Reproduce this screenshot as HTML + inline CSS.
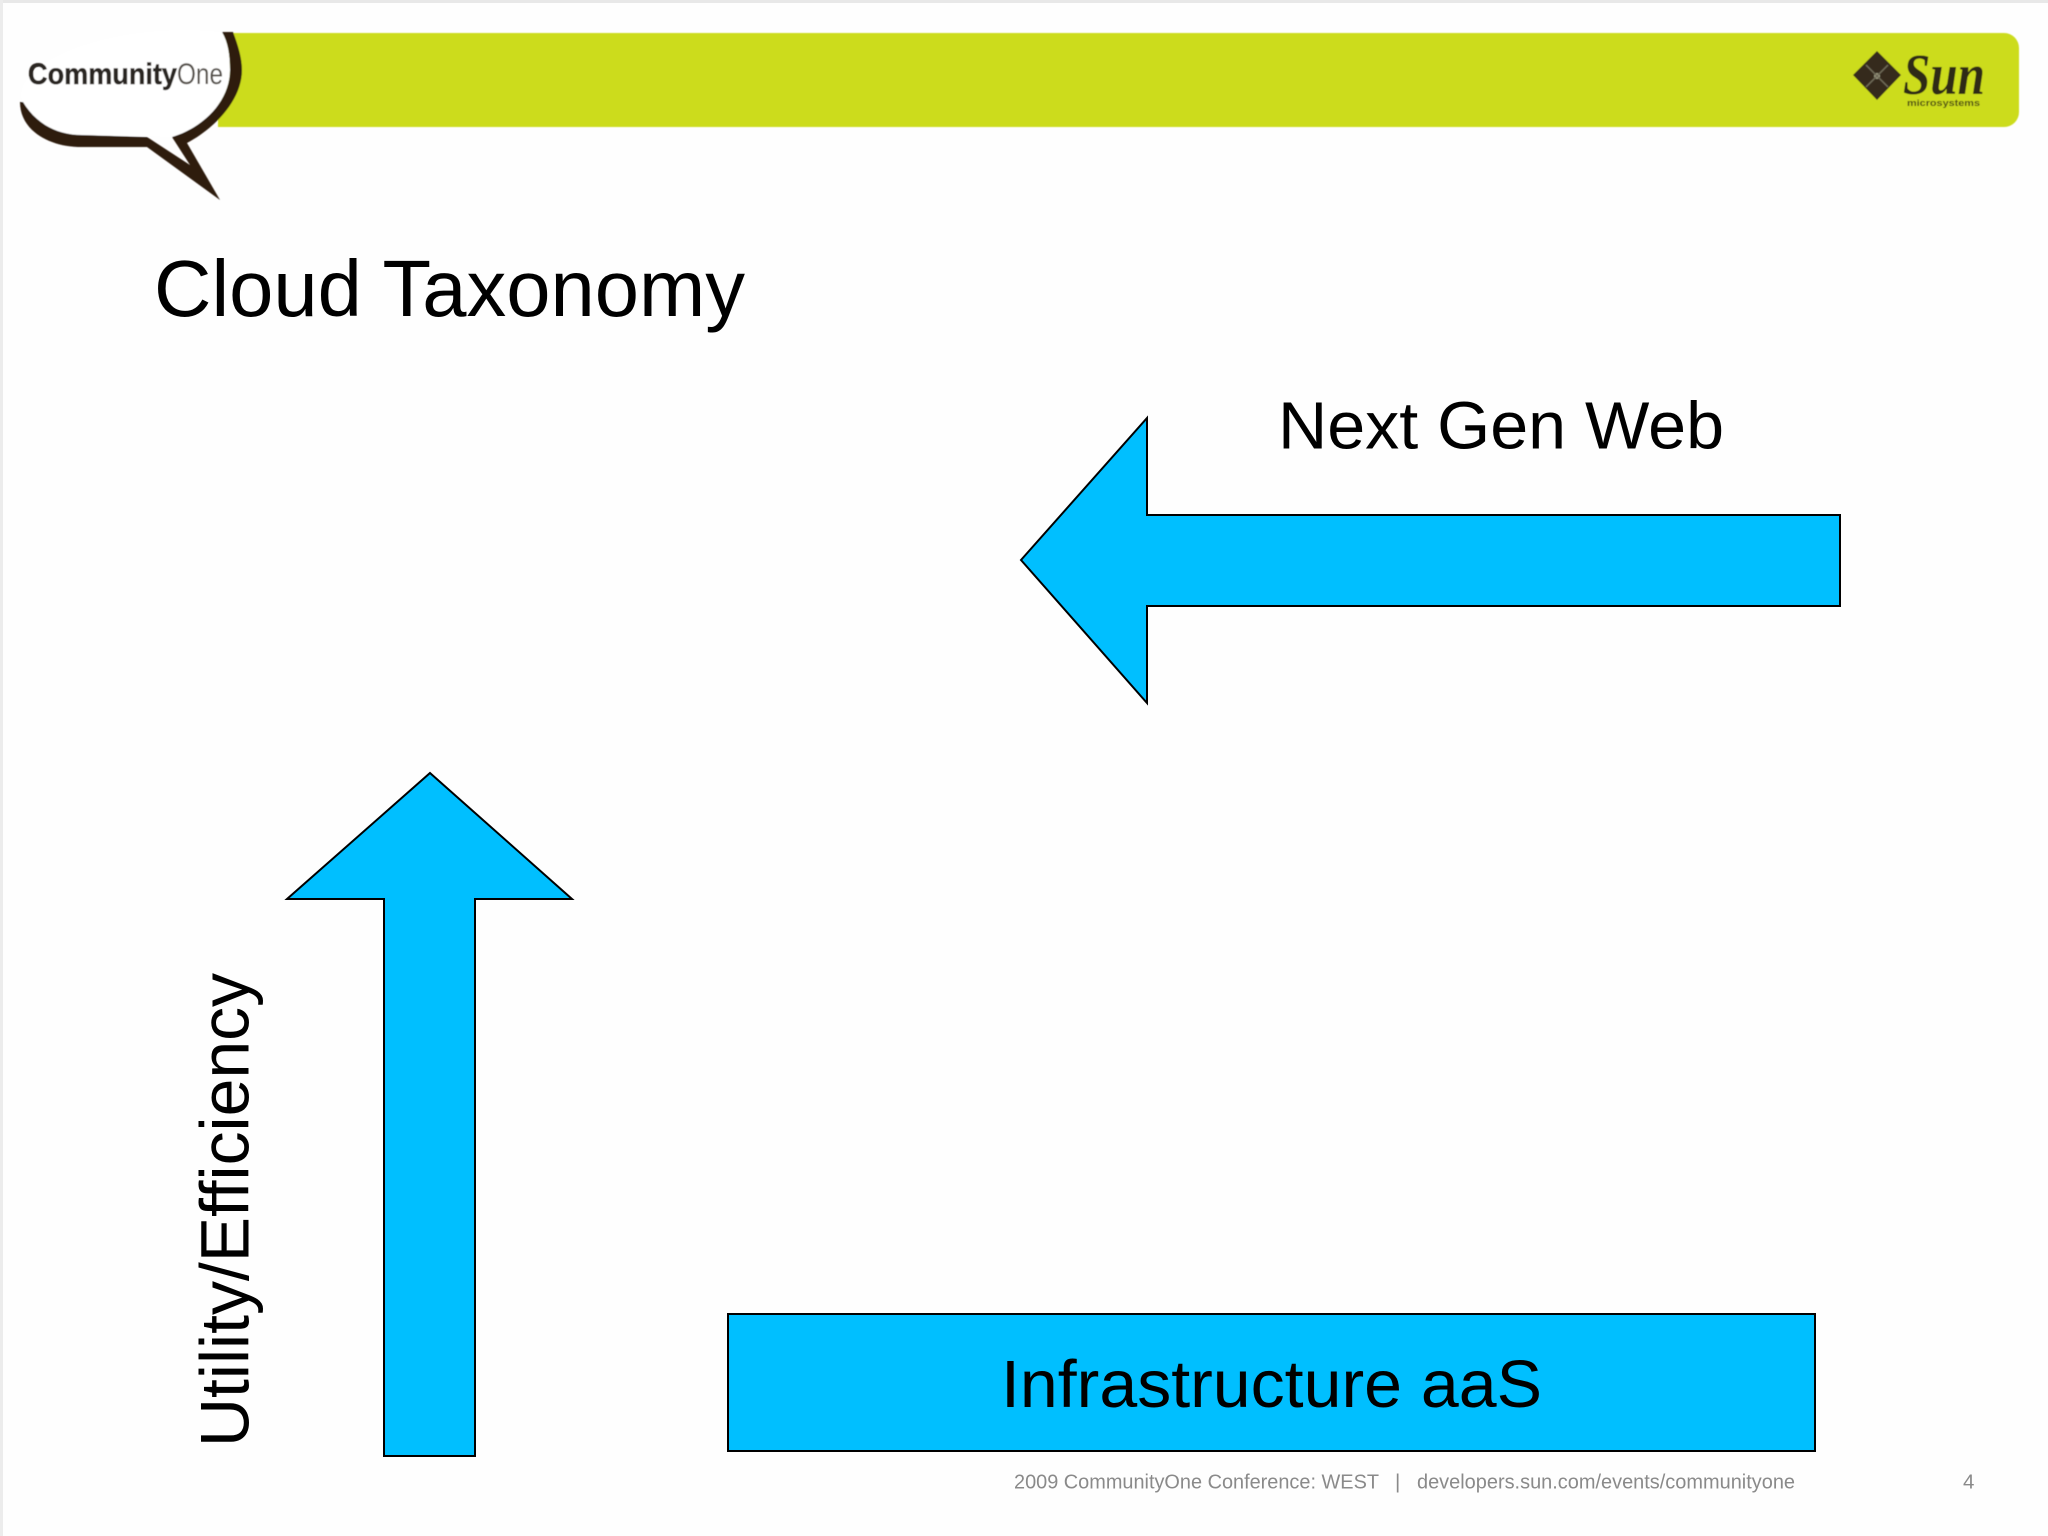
<!DOCTYPE html>
<html><head><meta charset="utf-8"><style>
html,body{margin:0;padding:0;background:#fefefe;width:2048px;height:1536px;overflow:hidden}
svg{display:block}
text{font-family:"Liberation Sans",sans-serif}
</style></head><body>
<svg width="2048" height="1536" viewBox="0 0 2048 1536" xmlns="http://www.w3.org/2000/svg">
<defs><filter id="s" x="-5%" y="-5%" width="110%" height="110%"><feGaussianBlur stdDeviation="0.6"/></filter></defs>
<rect width="2048" height="1536" fill="#fefefe"/>
<rect width="2048" height="3" fill="#e8e8e8"/>
<rect width="3" height="1536" fill="#ececec"/>
<!-- header -->
<g filter="url(#s)">
<path d="M218 33H2004A15 15 0 0 1 2019 48V112A15 15 0 0 1 2004 127H218Z" fill="#ccdc1c"/>
<path d="M222 32C120 20 10 60 22 102C35 120 50 135 80 135L172 137C205 127 230 100 230 70C230 55 228 42 222 32Z" fill="#fff"/>
<path d="M222 32L233 32C238 45 242 58 242 70C242 100 215 128 187 143L220 200L147 147L78 147C48 146 20 130 20 102L23 102C35 122 55 135 82 135L147 137L190 165L172 137C205 127 230 100 230 70C230 55 228 42 222 32Z" fill="#2e1c0c"/>
<text x="28" y="84" font-size="30" font-weight="bold" fill="#2b2520" stroke="#2b2520" stroke-width="0.5" textLength="149" lengthAdjust="spacingAndGlyphs">Community</text>
<text x="177" y="84" font-size="30" fill="#55504a" textLength="46" lengthAdjust="spacingAndGlyphs">One</text>
<path d="M1877 51L1901 75L1877 100L1853 75Z" fill="#352c1e"/>
<circle cx="1877" cy="76" r="3" fill="#9a9a80"/>
<path d="M1866 65L1888 87M1888 65L1866 87" stroke="#6f6a58" stroke-width="1.5"/>
<text x="1903" y="94" style="font-family:'Liberation Serif',serif" font-size="58" font-style="italic" font-weight="bold" fill="#2f2a12" textLength="82" lengthAdjust="spacingAndGlyphs">Sun</text>
<text x="1907" y="106" font-size="9" font-weight="bold" fill="#4a4a18" textLength="73" lengthAdjust="spacingAndGlyphs">microsystems</text>
</g>
<!-- title -->
<text x="154" y="316" font-size="80" fill="#000" textLength="591" lengthAdjust="spacingAndGlyphs">Cloud Taxonomy</text>
<!-- left arrow -->
<path d="M1021 560L1147 418V515H1840V606H1147V703Z" fill="#00bfff" stroke="#000" stroke-width="2"/>
<text x="1278" y="448.5" font-size="67" fill="#000" textLength="446" lengthAdjust="spacingAndGlyphs">Next Gen Web</text>
<!-- up arrow -->
<path d="M430 773L572 899H475V1456H384V899H287Z" fill="#00bfff" stroke="#000" stroke-width="2"/>
<text transform="translate(248.5 1447) rotate(-90)" x="0" y="0" font-size="69" fill="#000" textLength="474" lengthAdjust="spacingAndGlyphs">Utility/Efficiency</text>
<!-- box -->
<rect x="728" y="1314" width="1087" height="137" fill="#00bfff" stroke="#000" stroke-width="2"/>
<text x="1001" y="1407" font-size="67" fill="#000" textLength="541" lengthAdjust="spacingAndGlyphs">Infrastructure aaS</text>
<!-- footer -->
<text x="1014" y="1488.5" font-size="20.5" fill="#8a8a8a" textLength="365" lengthAdjust="spacingAndGlyphs">2009 CommunityOne Conference: WEST</text>
<text x="1395" y="1488.5" font-size="20.5" fill="#8a8a8a">|</text>
<text x="1417" y="1488.5" font-size="20.5" fill="#8a8a8a" textLength="378" lengthAdjust="spacingAndGlyphs">developers.sun.com/events/communityone</text>
<text x="1963" y="1488.5" font-size="20.5" fill="#8a8a8a">4</text>
</svg>
</body></html>
